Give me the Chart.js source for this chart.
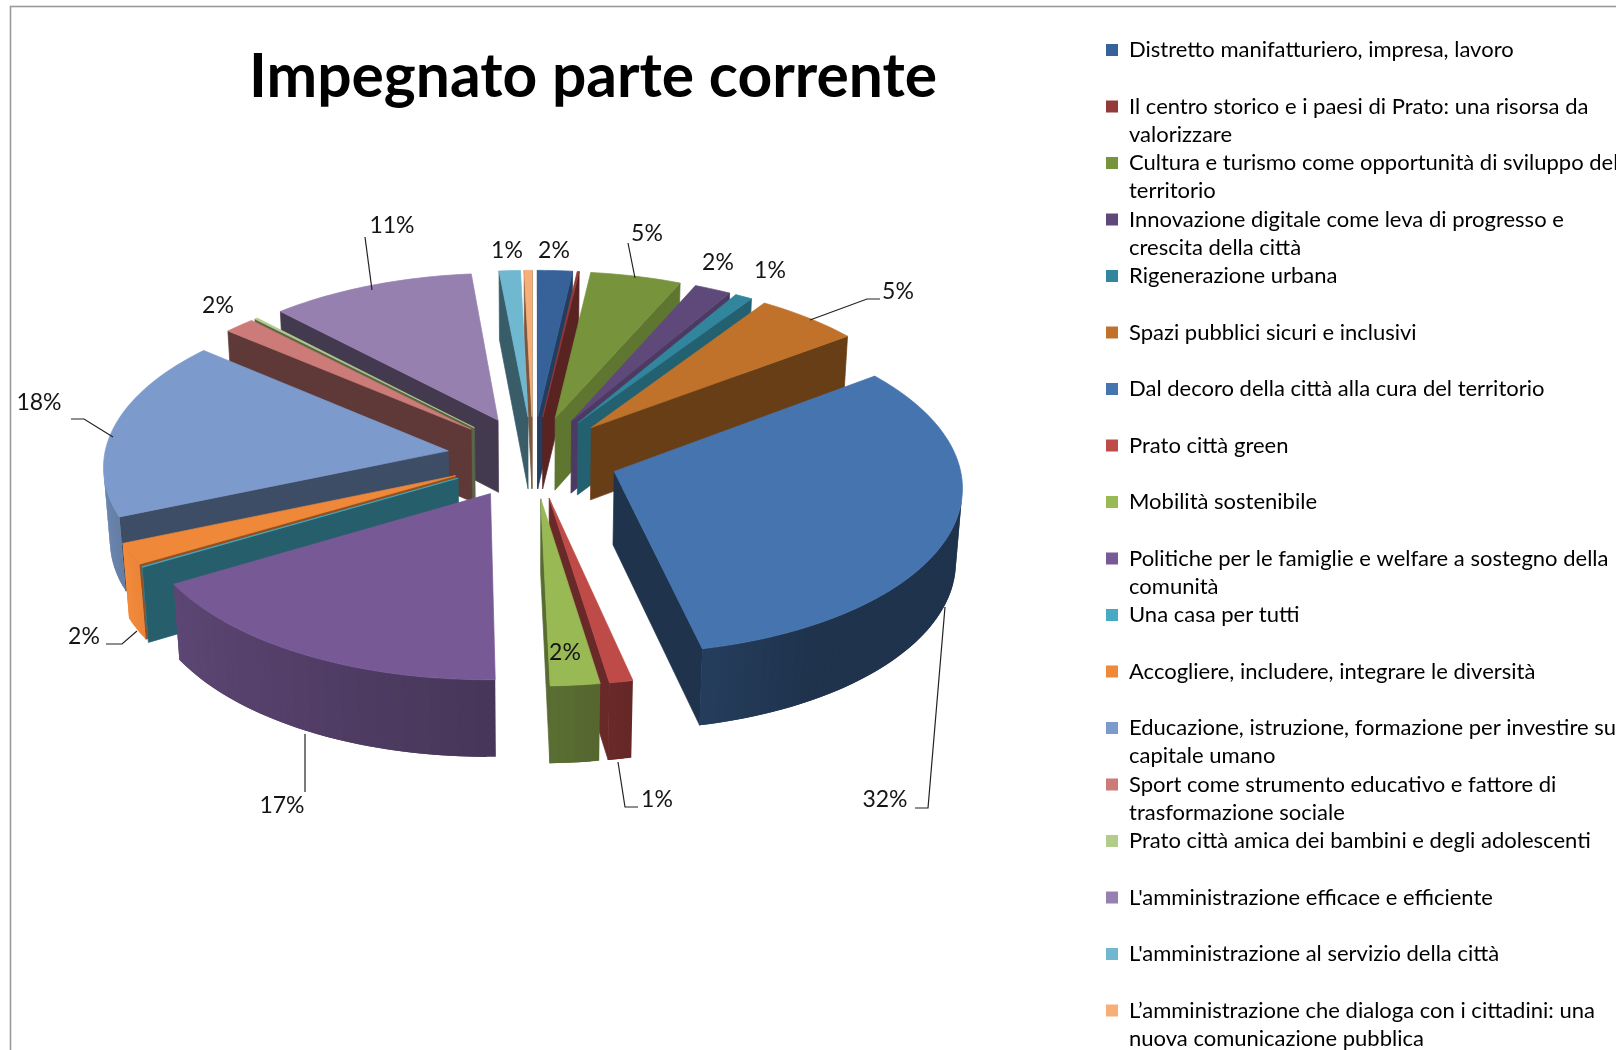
<!DOCTYPE html>
<html><head><meta charset="utf-8">
<style>html,body{margin:0;padding:0;background:#fff;width:1616px;height:1050px;overflow:hidden}canvas{display:block}</style>
<script src="https://cdn.jsdelivr.net/npm/chart.js@4/dist/chart.umd.js"></script>
</head><body>
<canvas id="c" width="1616" height="1100"></canvas>
<script>
const titleText = "Impegnato parte corrente";
const categories = [
 ["Distretto manifatturiero, impresa, lavoro",""],
 ["Il centro storico e i paesi di Prato: una risorsa da","valorizzare"],
 ["Cultura e turismo come opportunità di sviluppo del","territorio"],
 ["Innovazione digitale come leva di progresso e","crescita della città"],
 ["Rigenerazione urbana",""],
 ["Spazi pubblici sicuri e inclusivi",""],
 ["Dal decoro della città alla cura del territorio",""],
 ["Prato città green",""],
 ["Mobilità sostenibile",""],
 ["Politiche per le famiglie e welfare a sostegno della","comunità"],
 ["Una casa per tutti",""],
 ["Accogliere, includere, integrare le diversità",""],
 ["Educazione, istruzione, formazione per investire sul","capitale umano"],
 ["Sport come strumento educativo e fattore di","trasformazione sociale"],
 ["Prato città amica dei bambini e degli adolescenti",""],
 ["L'amministrazione efficace e efficiente",""],
 ["L'amministrazione al servizio della città",""],
 ["L’amministrazione che dialoga con i cittadini: una","nuova comunicazione pubblica"]
];
const values = [1.8,0.1,4.7,1.9,0.9,5.4,31.83,1.0,2.1,16.9,0.05,2.05,17.6,1.6,0.15,10.6,1.1,0.4];
const colors = ["#376299","#943a38","#77933c","#5f497a","#31859c","#c0722b","#4674ae","#be4b48","#98b954","#775a95","#46aac5","#f0883a","#7c9acb","#cc7b78","#b3cb8b","#9680b0","#70b8d0","#f8ae77"];
const cutShades = [.62,.6,.8,.8,.72,.54,.44,.55,.58,.6,.55,.6,.5,.46,.5,.45,.5,.5];
const rimBoost = [1,1,1,1,1,1,1,1,1,1,1,1.25,1,1,1,1,1,1];
// label centres and leader lines, one per slice (null = no label)
const labelPos = [[554,251],null,[647,234],[718,263],[770,271],[898,292],[885,800],[657,800],[565,653],[282,806],null,[84,637],[39,403],[218,306],null,[392,226],[507,251],null];
const leaders = [null,null,[[628,243],[635,278]],null,null,[[810,320],[867,299],[880,299]],[[945,607],[928,808],[915,808]],[[618,762],[625,807],[638,807]],null,[[305,734],[305,792]],null,[[106,644],[122,644],[137,631]],[[71,419],[84,419],[113,437]],null,null,[[365,237],[372,290]],null,null];

// view of the pie: centre, half-axes, depth and perspective
const VIEW = {cx:533, cy:457, A:344, B:164.6, D:74, k:0.0816, m:0.015};
function project(u,v,z){
  const s = 1/(1 - VIEW.k*v + VIEW.m*z);
  return [VIEW.cx + VIEW.A*u*s, VIEW.cy + (VIEW.B*v + VIEW.D*z)*s];
}
function shade(hex,f){
  const n=parseInt(hex.slice(1),16),c=x=>Math.min(255,Math.round(x*f));
  return `rgb(${c(n>>16&255)},${c(n>>8&255)},${c(n&255)})`;
}
function area(p){let a=0;for(let i=0;i<p.length;i++){const q=p[(i+1)%p.length];a+=p[i][0]*q[1]-q[0]*p[i][1];}return a;}
function poly(ctx,p,col,edge){
  ctx.beginPath();p.forEach((q,i)=>i?ctx.lineTo(q[0],q[1]):ctx.moveTo(q[0],q[1]));ctx.closePath();
  ctx.fillStyle=col;ctx.fill();
  if(edge){ctx.strokeStyle=col;ctx.lineWidth=.7;ctx.stroke();}
}
function rimShade(a){ // a = canvas angle; light comes from the left
  const deg=((a*180/Math.PI)%360+360)%360;
  const stops=[[0,.44],[60,.44],[90,.6],[150,.78],[180,.92],[360,.92]];
  for(let i=1;i<stops.length;i++) if(deg<=stops[i][0]){
    const t=(deg-stops[i-1][0])/(stops[i][0]-stops[i-1][0]);
    return stops[i-1][1]+t*(stops[i][1]-stops[i-1][1]);
  }
  return .5;
}
const pie3d = {
  id:'pie3d',
  beforeDraw(chart){
    const {ctx}=chart;ctx.save();ctx.fillStyle='#fff';ctx.fillRect(0,0,chart.width,chart.height);
    ctx.strokeStyle='#9a9a9a';ctx.lineWidth=1.6;ctx.strokeRect(10.5,6.5,chart.width+40,chart.height+40);ctx.restore();
  },
  beforeDatasetDraw(chart,args){
    const ctx=chart.ctx, arcs=args.meta.data;
    const order=arcs.map((a,i)=>i).sort((p,q)=>{
      const m=a=>Math.sin((a.startAngle+a.endAngle)/2);return m(arcs[p])-m(arcs[q]);});
    ctx.save();
    for(const i of order){
      const a=arcs[i], R=a.outerRadius, ex=a.options.offset/R, col=colors[i];
      const mid=(a.startAngle+a.endAngle)/2, ou=ex*Math.cos(mid), ov=ex*Math.sin(mid);
      const n=Math.max(2,Math.ceil((a.endAngle-a.startAngle)/0.025));
      const rim=t=>[ou+Math.cos(t),ov+Math.sin(t)];
      const angs=[];for(let j=0;j<=n;j++)angs.push(a.startAngle+(a.endAngle-a.startAngle)*j/n);
      const T=(p)=>project(p[0],p[1],0), B=(p)=>project(p[0],p[1],1), tip=[ou,ov];
      const walls=[
        [T(tip),T(rim(angs[0])),B(rim(angs[0])),B(tip)],
        [T(rim(angs[n])),T(tip),B(tip),B(rim(angs[n]))]
      ];
      walls.forEach(w=>{ if(area(w)<0) poly(ctx,w,shade(col,cutShades[i]),true); });
      for(let j=0;j<n;j++){
        const p=rim(angs[j]),q=rim(angs[j+1]),q2=rim(angs[Math.min(n,j+2)]),w=[T(p),T(q),B(q),B(p)];
        if(area(w)<0) poly(ctx,[T(p),T(q2),B(q2),B(p)],shade(col,rimBoost[i]*rimShade((angs[j]+angs[j+1])/2)),false);
      }
      const top=[T(tip)];angs.forEach(t=>top.push(T(rim(t))));
      poly(ctx,top,col,true);
    }
    ctx.restore();
    return false;
  },
  afterDatasetsDraw(chart){
    const ctx=chart.ctx,total=values.reduce((s,v)=>s+v,0);
    ctx.save();
    ctx.strokeStyle='#222';ctx.lineWidth=1.2;
    leaders.forEach(l=>{if(!l)return;ctx.beginPath();l.forEach((p,i)=>i?ctx.lineTo(p[0],p[1]):ctx.moveTo(p[0],p[1]));ctx.stroke();});
    ctx.fillStyle='#151515';ctx.font='23px Lato';ctx.textAlign='center';ctx.textBaseline='middle';
    labelPos.forEach((p,i)=>{if(p)ctx.fillText(Math.round(values[i]/total*100)+'%',p[0],p[1]);});
    ctx.restore();
  }
};
new Chart(document.getElementById('c'),{
  type:'pie',
  data:{labels:categories.map(c=>c.join(' ').trim()),datasets:[{data:values,backgroundColor:colors,borderWidth:0,offset:110}]},
  plugins:[pie3d],
  options:{
    responsive:false,animation:false,events:[],radius:440,
    layout:{padding:{left:80,top:39}},
    plugins:{
      tooltip:{enabled:false},
      title:{display:true,text:titleText,fullSize:false,color:'#000',font:{family:'Lato',size:60.5,weight:'bold',lineHeight:'68px'},padding:{top:4,bottom:0}},
      legend:{position:'right',align:'start',maxWidth:510,
        labels:{boxWidth:12,boxHeight:12,padding:0,color:'#1a1a1a',font:{family:'Lato',size:22,lineHeight:'28.25px'},
          generateLabels:()=>categories.map((t,i)=>({text:t,fillStyle:colors[i],strokeStyle:colors[i],lineWidth:0,hidden:false,index:i}))}}
    }
  }
});
</script>
</body></html>
